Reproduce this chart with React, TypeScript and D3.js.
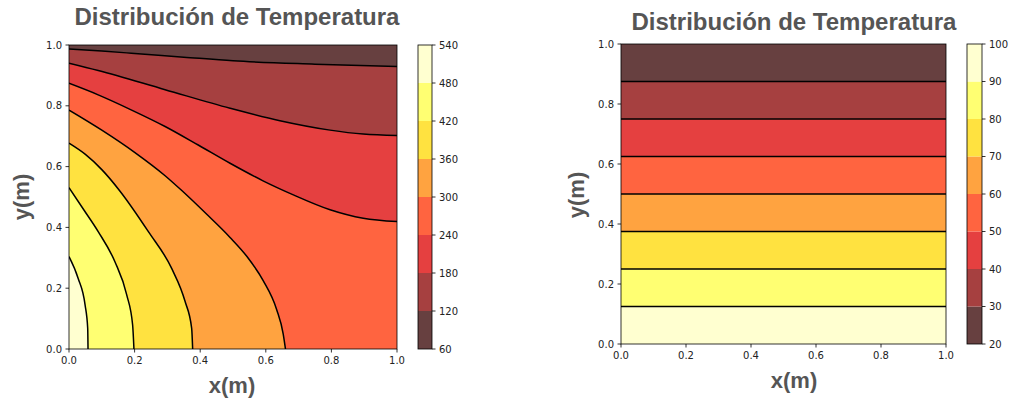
import React from "react";
import * as d3 from "d3";

// Temperature levels (contour boundaries) of each panel
const levelsA = [60, 120, 180, 240, 300, 360, 420, 480, 540];
const levelsB = [20, 30, 40, 50, 60, 70, 80, 90, 100];
const axisTicks = [0, 0.2, 0.4, 0.6, 0.8, 1.0];

// Isotherms of the first panel, [x, y] in metres, running from the left edge
// to the right edge or to the bottom edge. Hotter side is toward (0, 0).
const iso120 = [[0, 0.987], [0.1, 0.98], [0.19, 0.973], [0.35, 0.96], [0.5, 0.948], [0.75, 0.937], [1, 0.929]];
const iso180 = [[0, 0.94], [0.089, 0.916], [0.293, 0.853], [0.491, 0.792], [0.643, 0.751], [0.796, 0.72], [0.897, 0.707], [1, 0.702]];
const iso240 = [[0, 0.874], [0.089, 0.836], [0.191, 0.786], [0.293, 0.732], [0.394, 0.671], [0.491, 0.611], [0.59, 0.554], [0.684, 0.507], [0.796, 0.458], [0.897, 0.43], [1, 0.419]];
const iso300 = [[0, 0.786], [0.1, 0.72], [0.2, 0.647], [0.293, 0.57], [0.343, 0.522], [0.42, 0.443], [0.491, 0.367], [0.542, 0.305], [0.592, 0.225], [0.633, 0.13], [0.653, 0.05], [0.66, 0]];
const iso360 = [[0, 0.677], [0.05, 0.64], [0.1, 0.59], [0.155, 0.52], [0.242, 0.386], [0.313, 0.265], [0.354, 0.156], [0.374, 0.068], [0.377, 0]];
const iso420 = [[0, 0.531], [0.045, 0.458], [0.089, 0.386], [0.14, 0.287], [0.176, 0.178], [0.194, 0.079], [0.198, 0]];
const iso480 = [[0, 0.304], [0.028, 0.232], [0.049, 0.145], [0.057, 0.068], [0.058, 0]];
const isothermsA = [iso120, iso180, iso240, iso300, iso360, iso420, iso480];

// Isotherms of the second panel (30, 40, ..., 90): horizontal lines at these heights
const heightsB = [0.875, 0.75, 0.625, 0.5, 0.375, 0.25, 0.125];
const isothermsB = heightsB.map((h) => [[0, h], [1, h]]);

// matplotlib "hot" colormap segments, blended on white with alpha 0.75
const hotR = d3.scaleLinear().domain([0, 0.365079, 1]).range([0.0416, 1, 1]).clamp(true);
const hotG = d3.scaleLinear().domain([0, 0.365079, 0.746032, 1]).range([0, 0, 1, 1]).clamp(true);
const hotB = d3.scaleLinear().domain([0, 0.746032, 1]).range([0, 0, 1]).clamp(true);
const ALPHA = 0.75;
function hot(v: number) {
  const mix = (c: number) => Math.round(255 * (ALPHA * c + (1 - ALPHA)));
  return d3.rgb(mix(hotR(v)), mix(hotG(v)), mix(hotB(v))).formatHex();
}

const TITLE_FONT = "'Liberation Sans', Arial, Helvetica, sans-serif";
const TICK_FONT = "'DejaVu Sans', Verdana, sans-serif";
const LABEL_COLOR = "#555555";

type Box = { x0: number; x1: number; y0: number; y1: number };
type PanelProps = {
  id: string;
  levels: number[];
  isotherms: number[][][];
  axes: Box;
  cbar: Box;
  title: [number, number];
  xlabel: [number, number];
  ylabel: [number, number];
};

function Panel({ id, levels, isotherms, axes, cbar, title, xlabel, ylabel }: PanelProps) {
  const xs = d3.scaleLinear().domain([0, 1]).range([axes.x0, axes.x1]);
  const ys = d3.scaleLinear().domain([0, 1]).range([axes.y1, axes.y0]);
  const nb = levels.length - 1;
  const bandColor = (i: number) => hot((i + 0.5) / nb);
  const line = d3
    .line<number[]>()
    .x((d) => xs(d[0]))
    .y((d) => ys(d[1]))
    .curve(d3.curveMonotoneX);

  // region on the hot side of an isotherm: the curve, then back along the border through (0, 0)
  const hotSide = (pts: number[][]) => {
    const end = pts[pts.length - 1];
    const tail = end[0] >= 1 ? [[1, 0], [0, 0]] : [[0, 0]];
    return line(pts) + tail.map((p) => `L${xs(p[0])},${ys(p[1])}`).join("") + "Z";
  };

  const cs = d3.scaleLinear().domain([levels[0], levels[nb]]).range([cbar.y1, cbar.y0]);
  const tickLen = 3.5;
  const pad = 3.5;

  return (
    <g>
      <defs>
        <clipPath id={`clip-${id}`}>
          <rect x={axes.x0} y={axes.y0} width={axes.x1 - axes.x0} height={axes.y1 - axes.y0} />
        </clipPath>
      </defs>
      <g clipPath={`url(#clip-${id})`}>
        <rect x={axes.x0} y={axes.y0} width={axes.x1 - axes.x0} height={axes.y1 - axes.y0} fill={bandColor(0)} />
        {isotherms.map((pts, k) => (
          <path key={`f${k}`} d={hotSide(pts)} fill={bandColor(k + 1)} />
        ))}
        {isotherms.map((pts, k) => (
          <path key={`l${k}`} d={line(pts) || ""} fill="none" stroke="#000" strokeWidth={1.5} />
        ))}
      </g>
      <rect x={axes.x0} y={axes.y0} width={axes.x1 - axes.x0} height={axes.y1 - axes.y0} fill="none" stroke="#000" strokeWidth={0.8} />

      {/* x axis */}
      {axisTicks.map((t) => (
        <g key={`x${t}`}>
          <line x1={xs(t)} x2={xs(t)} y1={axes.y1} y2={axes.y1 + tickLen} stroke="#000" strokeWidth={0.8} />
          <text x={xs(t)} y={axes.y1 + tickLen + pad + 8} textAnchor="middle" fontFamily={TICK_FONT} fontSize={10} fill="#222">
            {d3.format(".1f")(t)}
          </text>
        </g>
      ))}
      {/* y axis */}
      {axisTicks.map((t) => (
        <g key={`y${t}`}>
          <line x1={axes.x0 - tickLen} x2={axes.x0} y1={ys(t)} y2={ys(t)} stroke="#000" strokeWidth={0.8} />
          <text x={axes.x0 - tickLen - pad} y={ys(t) + 3.6} textAnchor="end" fontFamily={TICK_FONT} fontSize={10} fill="#222">
            {d3.format(".1f")(t)}
          </text>
        </g>
      ))}

      {/* colour bar */}
      {d3.range(nb).map((i) => (
        <rect
          key={`c${i}`}
          x={cbar.x0}
          y={cs(levels[i + 1])}
          width={cbar.x1 - cbar.x0}
          height={cs(levels[i]) - cs(levels[i + 1])}
          fill={bandColor(i)}
        />
      ))}
      <rect x={cbar.x0} y={cbar.y0} width={cbar.x1 - cbar.x0} height={cbar.y1 - cbar.y0} fill="none" stroke="#000" strokeWidth={0.8} />
      {levels.map((v) => (
        <g key={`ct${v}`}>
          <line x1={cbar.x1} x2={cbar.x1 + tickLen} y1={cs(v)} y2={cs(v)} stroke="#000" strokeWidth={0.8} />
          <text x={cbar.x1 + tickLen + pad} y={cs(v) + 3.6} fontFamily={TICK_FONT} fontSize={10} fill="#222">
            {v}
          </text>
        </g>
      ))}

      <text x={title[0]} y={title[1]} textAnchor="middle" fontFamily={TITLE_FONT} fontWeight="bold" fontSize={24} fill={LABEL_COLOR}>
        Distribución de Temperatura
      </text>
      <text x={xlabel[0]} y={xlabel[1]} textAnchor="middle" fontFamily={TITLE_FONT} fontWeight="bold" fontSize={22} fill={LABEL_COLOR}>
        x(m)
      </text>
      <text
        transform={`translate(${ylabel[0]},${ylabel[1]}) rotate(-90)`}
        textAnchor="middle"
        fontFamily={TITLE_FONT}
        fontWeight="bold"
        fontSize={22}
        fill={LABEL_COLOR}
      >
        y(m)
      </text>
    </g>
  );
}

export default function App() {
  return (
    <svg width={1010} height={401} style={{ position: "absolute", left: 0, top: 0, background: "#fff" }}>
      <Panel
        id="a"
        levels={levelsA}
        isotherms={isothermsA}
        axes={{ x0: 69, x1: 397, y0: 45, y1: 349 }}
        cbar={{ x0: 418, x1: 432, y0: 45, y1: 349 }}
        title={[237, 25]}
        xlabel={[232, 393]}
        ylabel={[29, 197]}
      />
      <Panel
        id="b"
        levels={levelsB}
        isotherms={isothermsB}
        axes={{ x0: 621, x1: 946, y0: 44, y1: 344 }}
        cbar={{ x0: 967, x1: 982, y0: 44, y1: 344 }}
        title={[794, 30]}
        xlabel={[794, 388]}
        ylabel={[584, 195]}
      />
    </svg>
  );
}
